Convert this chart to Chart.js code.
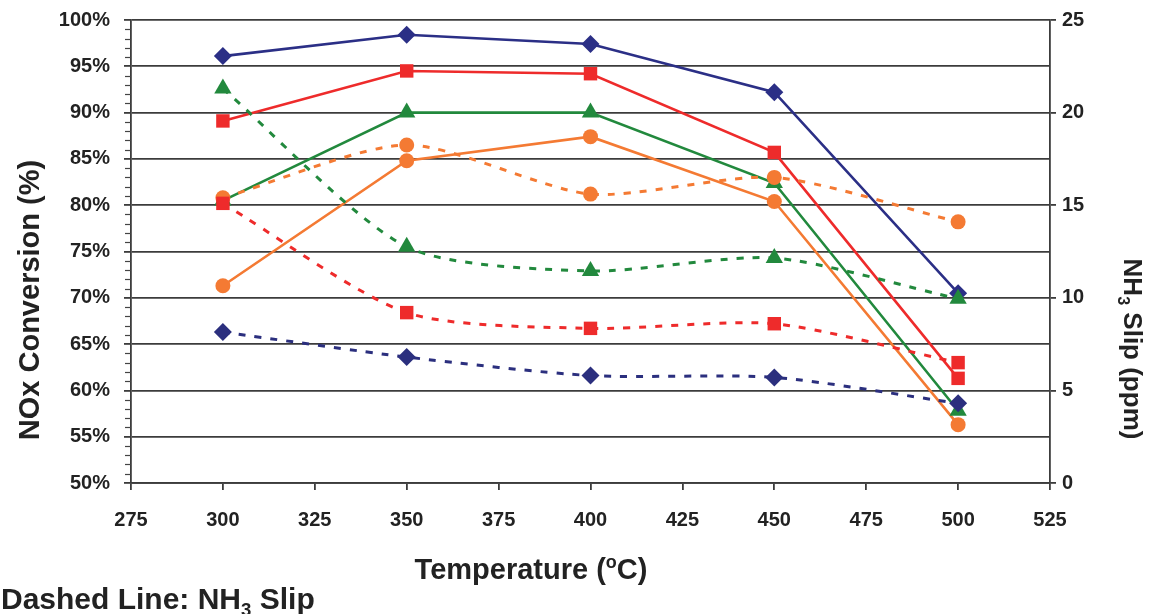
<!DOCTYPE html>
<html>
<head>
<meta charset="utf-8">
<script src="https://cdn.jsdelivr.net/npm/chart.js@4/dist/chart.umd.min.js"></script>
<style>
  html, body { margin: 0; padding: 0; background: #fff; }
  #wrap { width: 1156px; height: 614px; position: relative; }
</style>
</head>
<body>
<div id="wrap"><canvas id="scr"></canvas></div>
<script>
// temperatures (°C)
const temps = [300, 350, 400, 450, 500];

// NOx conversion (%), solid lines, left axis
const navyConv = [96.1, 98.4, 97.4, 92.2, 70.5];
const redConv = [89.1, 94.5, 94.2, 85.7, 61.3];
const greenConv = [80.5, 90.0, 90.0, 82.4, 57.8];
const orangeConv = [71.3, 84.8, 87.4, 80.4, 56.3];

// NH3 slip (ppm), dashed lines, right axis
const navySlip = [8.15, 6.8, 5.8, 5.7, 4.3];
const redSlip = [15.1, 9.2, 8.35, 8.6, 6.5];
const greenSlip = [21.3, 12.75, 11.45, 12.15, 9.95];
const orangeSlip = [15.4, 18.25, 15.6, 16.5, 14.1];

const FONT = "'Liberation Sans', Arial, sans-serif";

function pts(arr) {
  return arr.map((v, i) => ({ x: temps[i], y: v }));
}

function line(data, color, marker, radius, axis, dashed) {
  return {
    data: pts(data),
    yAxisID: axis,
    borderColor: color,
    backgroundColor: color,
    pointBackgroundColor: color,
    pointBorderColor: color,
    pointBorderWidth: 0,
    pointStyle: marker,
    pointRadius: radius,
    borderWidth: dashed ? 3 : 2.6,
    borderDash: dashed ? [7, 9] : [],
    tension: dashed ? 0.25 : 0,
    fill: false,
  };
}

// draws text pieces with sub/superscript, optionally rotated
function richText(ctx, parts, x, y, size, angle, align) {
  ctx.save();
  ctx.translate(x, y);
  ctx.rotate(angle);
  ctx.fillStyle = "#222";
  ctx.textBaseline = "alphabetic";
  ctx.textAlign = "left";
  let total = 0;
  parts.forEach((p) => {
    const s = p.sub || p.sup ? size * 0.62 : size;
    ctx.font = "bold " + s + "px " + FONT;
    total += ctx.measureText(p.t).width;
  });
  let cx = align === "left" ? 0 : -total / 2;
  parts.forEach((p) => {
    const s = p.sub || p.sup ? size * 0.62 : size;
    ctx.font = "bold " + s + "px " + FONT;
    let dy = 0;
    if (p.sub) dy = size * 0.22;
    if (p.sup) dy = -size * 0.38;
    ctx.fillText(p.t, cx, dy);
    cx += ctx.measureText(p.t).width;
  });
  ctx.restore();
}

const extras = {
  id: "extras",
  afterDraw(chart) {
    const ctx = chart.ctx;
    const y = chart.scales.y;
    // minor ticks on left axis, every 1%
    ctx.save();
    ctx.strokeStyle = "#444";
    ctx.lineWidth = 1.2;
    for (let v = 50; v <= 100; v += 1) {
      if (v % 5 === 0) continue;
      const py = Math.round(y.getPixelForValue(v)) + 0.5;
      ctx.beginPath();
      ctx.moveTo(y.right - 6, py);
      ctx.lineTo(y.right, py);
      ctx.stroke();
    }
    ctx.restore();

    richText(ctx, [{ t: "NOx Conversion (%)" }], 39, 300, 29, -Math.PI / 2);
    richText(ctx, [{ t: "NH" }, { t: "3", sub: true }, { t: " Slip (ppm)" }], 1124, 349, 26, Math.PI / 2);
    richText(ctx, [{ t: "Temperature (" }, { t: "o", sup: true }, { t: "C)" }], 531, 579, 29, 0);
    richText(ctx, [{ t: "Dashed Line: NH" }, { t: "3", sub: true }, { t: " Slip" }], 1, 609, 30, 0, "left");
  },
};

const gridCol = "#3c3c3c";

function fixV(w) {
  return (s) => { s.width = w; s.paddingTop = 0; s.paddingBottom = 0; };
}

new Chart(document.getElementById("scr"), {
  type: "line",
  data: {
    datasets: [
      line(navySlip, "#2b2f7e", "rectRot", 9, "y1", true),
      line(redSlip, "#ee2b2b", "rect", 9.5, "y1", true),
      line(greenSlip, "#22893d", "triangle", 10, "y1", true),
      line(orangeSlip, "#f47a33", "circle", 7.5, "y1", true),
      line(navyConv, "#2b2f86", "rectRot", 9, "y", false),
      line(redConv, "#ee2b2b", "rect", 9.5, "y", false),
      line(greenConv, "#22893d", "triangle", 10, "y", false),
      line(orangeConv, "#f47a33", "circle", 7.5, "y", false),
    ],
  },
  options: {
    responsive: true,
    maintainAspectRatio: false,
    animation: false,
    layout: { padding: { top: 20, left: 0, right: 0, bottom: 0 } },
    plugins: { legend: { display: false }, tooltip: { enabled: false } },
    scales: {
      x: {
        type: "linear",
        min: 275,
        max: 525,
        afterFit: (s) => { s.height = 131; s.paddingLeft = 0; s.paddingRight = 0; },
        ticks: { stepSize: 25, padding: 18, color: "#222", font: { family: FONT, size: 20, weight: "bold" } },
        grid: { drawOnChartArea: false, drawTicks: true, tickLength: 7, color: gridCol, lineWidth: 1.8 },
        border: { display: true, color: gridCol, width: 1.8 },
      },
      y: {
        position: "left",
        min: 50,
        max: 100,
        afterFit: fixV(131),
        ticks: {
          stepSize: 5,
          padding: 14,
          color: "#222",
          font: { family: FONT, size: 20, weight: "bold" },
          callback: (v) => v + "%",
        },
        grid: { color: gridCol, lineWidth: 1.8, tickLength: 7 },
        border: { display: true, color: gridCol, width: 1.8 },
      },
      y1: {
        position: "right",
        min: 0,
        max: 25,
        afterFit: fixV(106),
        ticks: { stepSize: 5, padding: 6, color: "#222", font: { family: FONT, size: 20, weight: "bold" } },
        grid: { drawOnChartArea: false, tickLength: 6, color: gridCol, lineWidth: 1.8 },
        border: { display: true, color: gridCol, width: 1.8 },
      },
    },
  },
  plugins: [extras],
});
</script>
</body>
</html>
